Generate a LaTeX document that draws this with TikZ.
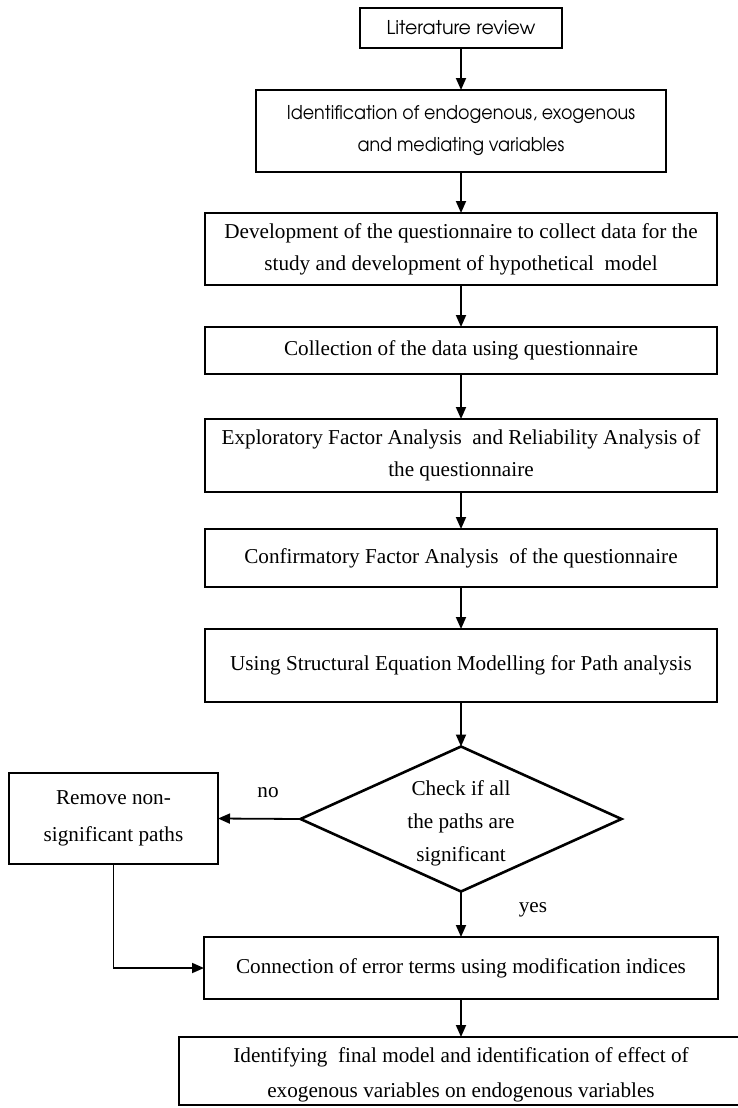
\documentclass[tikz,border=0pt]{standalone}
\usepackage{fontspec}
\usepackage{graphicx}
\setmainfont{Liberation Serif}
\newfontfamily\gothic{TeX Gyre Adventor}
\usetikzlibrary{arrows.meta,shapes.geometric}
\newcommand{\cond}[1]{\scalebox{0.92}[1]{#1}}
\begin{document}
\begin{tikzpicture}[x=1pt,y=-1pt,
  box/.style={draw, line width=2.8pt, rectangle, inner sep=0pt, outer sep=0pt,
    align=center, font=\fontsize{21.2}{32}\selectfont},
  gbox/.style={box, font=\gothic\fontsize{19}{32}\selectfont},
  arr/.style={line width=1.8pt, -{Triangle[length=12pt,width=10pt]}},
  lbl/.style={inner sep=0pt, font=\fontsize{21.2}{26}\selectfont}
]
\useasboundingbox[fill=white] (0,0) rectangle (737,1108);

\node[gbox, minimum width=202pt, minimum height=40pt] (lit) at (461,28) {Literature review};
\node[gbox, minimum width=410pt, minimum height=82pt] (ident) at (461,131)
  {\cond{Identification of endogenous, exogenous}\\\cond{and mediating variables}};
\node[box, minimum width=512pt, minimum height=72pt] (dev) at (461,249)
  {Development of the questionnaire to collect data for the\\study and development of hypothetical\ \ model};
\node[box, minimum width=512pt, minimum height=47pt] (coll) at (461,350.5)
  {Collection of the data using questionnaire};
\node[box, minimum width=512pt, minimum height=73pt] (efa) at (461,455.5)
  {Exploratory Factor Analysis\ \ and Reliability Analysis of\\the questionnaire};
\node[box, minimum width=512pt, minimum height=58pt] (cfa) at (461,558)
  {Confirmatory Factor Analysis\ \ of the questionnaire};
\node[box, minimum width=512pt, minimum height=73pt] (sem) at (461,665.5)
  {Using Structural Equation Modelling for Path analysis};
\node[draw, diamond, line width=2.6pt, aspect=2.2, inner sep=0pt, outer sep=0pt,
  minimum width=321pt, minimum height=145pt] (chk) at (461,819) {};
\node[inner sep=0pt, align=center, font=\fontsize{21.2}{33}\selectfont] (chktxt) at (461,823)
  {Check if all\\the paths are\\significant};
\node[box, minimum width=209pt, minimum height=91pt, font=\fontsize{21.2}{37}\selectfont] (rem) at (113.5,818.5)
  {Remove non-\\significant paths};
\node[box, minimum width=514pt, minimum height=62pt] (conn) at (461,968)
  {Connection of error terms using modification indices};
\node[box, minimum width=564pt, minimum height=68pt] (fin) at (461,1071) {};
\node[inner sep=0pt, align=center, font=\fontsize{21.2}{35}\selectfont] (fintxt) at (461,1075)
  {Identifying\ \ final model and identification of effect of\\exogenous variables on endogenous variables};

\node[lbl] (no) at (268,793) {no};
\node[lbl] (yes) at (533,910) {yes};

\draw[arr] (lit) -- (ident);
\draw[arr] (ident) -- (dev);
\draw[arr] (dev) -- (coll);
\draw[arr] (coll) -- (efa);
\draw[arr] (efa) -- (cfa);
\draw[arr] (cfa) -- (sem);
\draw[arr] (sem) -- (chk);
\draw[arr] (chk) -- (conn);
\draw[arr] (chk.west) -- (rem.east);
\draw[arr] (rem.south) |- (conn.west);
\draw[arr] (conn) -- (fin);
\end{tikzpicture}
\end{document}
